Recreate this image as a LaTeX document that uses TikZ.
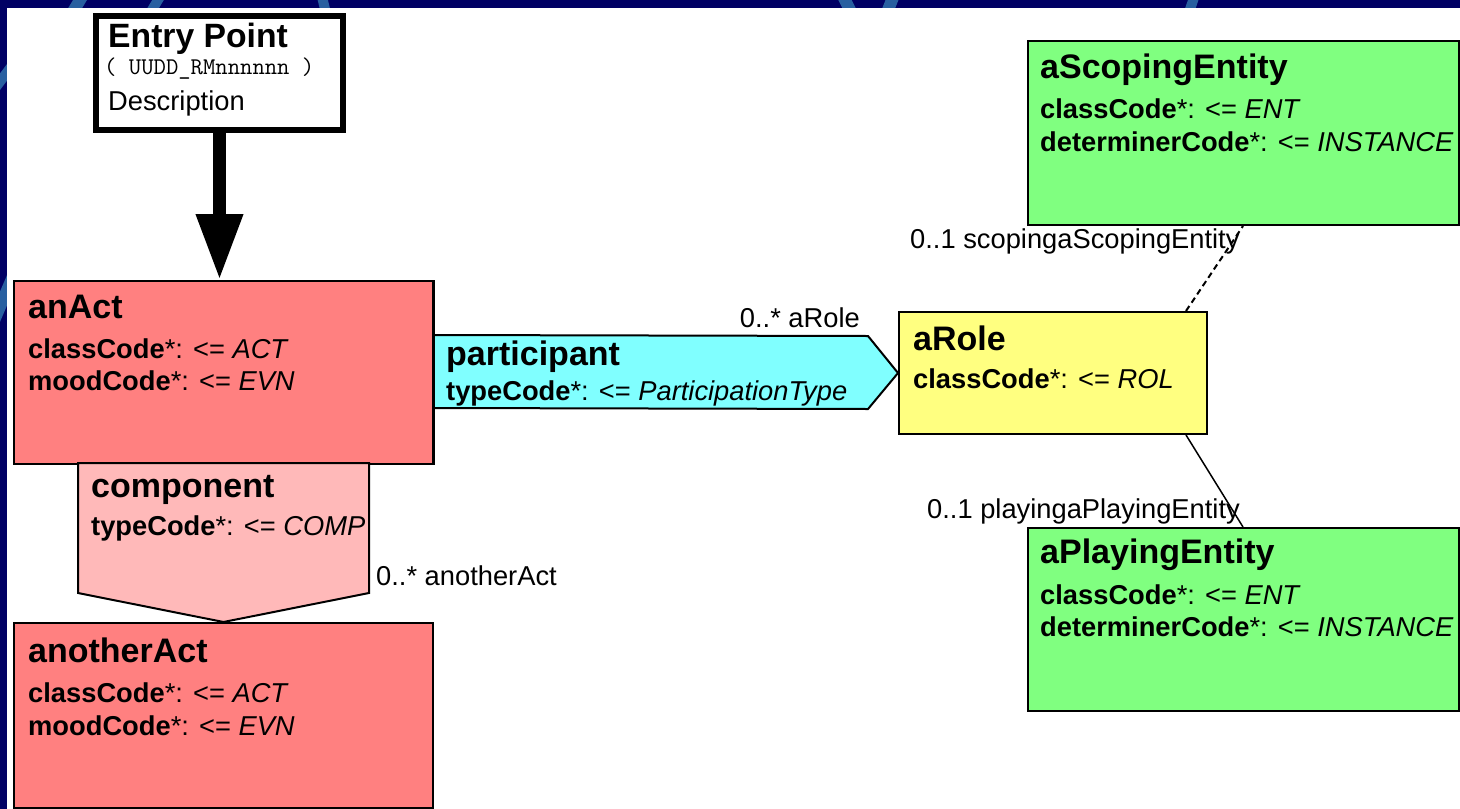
\documentclass[tikz,border=0pt]{standalone}
\usepackage{fontspec}
\setmainfont{Liberation Sans}
\usetikzlibrary{positioning}
\usetikzlibrary{arrows.meta}
\usetikzlibrary{calc}
\definecolor{navyback}{RGB}{0,0,100}
\definecolor{streak}{RGB}{40,95,160}
\definecolor{actred}{RGB}{255,128,128}
\definecolor{comppink}{RGB}{255,185,185}
\definecolor{partcyan}{RGB}{128,255,255}
\definecolor{roleyellow}{RGB}{255,255,128}
\definecolor{entgreen}{RGB}{128,255,128}
\tikzset{
    boxbase/.style = {rectangle, draw=black, line width=2pt, inner sep=0pt, anchor=north west},
    actbox/.style = {boxbase, fill=actred},
    rolebox/.style = {boxbase, fill=roleyellow},
    entbox/.style = {boxbase, fill=entgreen},
    entrybox/.style = {rectangle, draw=black, line width=6pt, fill=white, inner sep=0pt, anchor=north west},
    ttl/.style = {anchor=base west, inner sep=0pt, font=\fontsize{34}{40}\selectfont\bfseries},
    attr/.style = {anchor=base west, inner sep=0pt, font=\fontsize{27.3}{32}\selectfont},
    lbl/.style = {anchor=base west, inner sep=0pt, font=\fontsize{27.3}{32}\selectfont},
    edgen/.style = {-, line width=1.5pt, black},
    edged/.style = {-, line width=2pt, black, dash pattern=on 6pt off 4pt}, % scoping
    shapen/.style = {line width=2pt, draw=black, line join=miter}
}
\newcommand{\attrline}[2]{\textbf{#1}*: <= \textit{#2}}

\begin{document}
\begin{tikzpicture}[x=1pt, y=-1pt]
  \useasboundingbox (0,0) rectangle (1460,809);
  % backdrop
  \fill[navyback] (0,0) rectangle (1460,809);
  \begin{scope}
    \clip (0,0) rectangle (1460,8) (0,0) rectangle (7,809);
    \draw[streak, line width=12pt] (62,30) -- (92,-20);
    \draw[streak, line width=10pt] (140,30) -- (170,-20);
    \draw[streak, line width=10pt] (318,-20) -- (330,30);
    \draw[streak, line width=12pt] (835,-20) -- (860,30);
    \draw[streak, line width=12pt] (880,30) -- (900,-20);
    \draw[streak, line width=10pt] (1183,30) -- (1200,-20);
    \draw[streak, line width=10pt] (-10,95) -- (20,55);
    \draw[streak, line width=12pt] (-10,330) -- (20,260);
  \end{scope}
  \fill[white] (7,8) rectangle (1460,809);

  % entry point
  \node[entrybox, minimum width=247pt, minimum height=114pt] (entry) at (93,13) {};
  \node[anchor=base west, inner sep=0pt, font=\fontsize{33.7}{38}\selectfont\bfseries] (entryTitle) at (108,47) {Entry Point};
  \node[anchor=base west, inner sep=0pt, font=\fontsize{24}{28}\selectfont\ttfamily] (entryCode) at (104,74) {( UUDD\_RMnnnnnn )};
  \node[anchor=base west, inner sep=0pt, font=\fontsize{27.3}{32}\selectfont] (entryDesc) at (108,110) {Description};

  % classes
  \node[actbox, minimum width=419pt, minimum height=183pt] (anAct) at (13,280) {};
  \node[actbox, minimum width=419pt, minimum height=185pt] (anotherAct) at (13,622) {};
  \node[rolebox, minimum width=308pt, minimum height=122pt] (aRole) at (898,311) {};
  \node[entbox, minimum width=431pt, minimum height=184pt] (aScoping) at (1027,40) {};
  \node[entbox, minimum width=431pt, minimum height=183pt] (aPlaying) at (1027,527) {};

  % entry arrow
  \draw[line width=13pt, -{Triangle[width=44pt, length=66pt]}] (entry.south) -- (entry.south |- anAct.north);

  % component
  \coordinate (compTL) at (78,463);
  \coordinate (compTR) at (369,463);
  \filldraw[shapen, fill=comppink] (compTL) -- (compTR) -- ++(0,130) -- (anotherAct.north) -- ($(compTL)+(0,130)$) -- cycle;

  % participant
  \coordinate (partTL) at ($(anAct.north east)+(0,55)$);
  \coordinate (partBL) at ($(anAct.north east)+(0,128)$);
  \filldraw[shapen, fill=partcyan] (partTL) -- ($(aRole.west)+(-30,-37)$) -- (aRole.west) -- ($(aRole.west)+(-30,36)$) -- (partBL);
  \draw[line width=2pt] (partTL |- anAct.north) -- (anAct.south east);

  % role links
  \draw[edged] ([xshift=-22pt]aRole.north east) -- ([xshift=216pt]aScoping.south west);
  \draw[edgen] ([xshift=-22pt]aRole.south east) -- ([xshift=216pt]aPlaying.north west);

  % texts
  \node[ttl] (anActT) at (28,318) {anAct};
  \node[attr] (anActA1) at (28,358) {\attrline{classCode}{ACT}};
  \node[attr] (anActA2) at (28,390) {\attrline{moodCode}{EVN}};

  \node[ttl] (compT) at (91,497) {component};
  \node[attr] (compA1) at (91,535) {\attrline{typeCode}{COMP}};

  \node[ttl] (anotherActT) at (28,662) {anotherAct};
  \node[attr] (anotherActA1) at (28,702) {\attrline{classCode}{ACT}};
  \node[attr] (anotherActA2) at (28,735) {\attrline{moodCode}{EVN}};

  \node[ttl] (partT) at (446,365) {participant};
  \node[attr] (partA1) at (446,400) {\attrline{typeCode}{ParticipationType}};

  \node[ttl] (aRoleT) at (913,350) {aRole};
  \node[attr] (aRoleA1) at (913,388) {\attrline{classCode}{ROL}};

  \node[ttl] (aScopingT) at (1040,78) {aScopingEntity};
  \node[attr] (aScopingA1) at (1040,118) {\attrline{classCode}{ENT}};
  \node[attr] (aScopingA2) at (1040,151) {\attrline{determinerCode}{INSTANCE}};

  \node[ttl] (aPlayingT) at (1040,563) {aPlayingEntity};
  \node[attr] (aPlayingA1) at (1040,604) {\attrline{classCode}{ENT}};
  \node[attr] (aPlayingA2) at (1040,636) {\attrline{determinerCode}{INSTANCE}};

  % role names
  \node[lbl, anchor=base east] (lblRole) at (860,327) {0..* aRole};
  \node[lbl] (lblAnother) at (376,585) {0..* anotherAct};
  \node[lbl] (lblScoping) at (910,248) {0..1 scopingaScopingEntity};
  \node[lbl] (lblPlaying) at (927,518) {0..1 playingaPlayingEntity};
\end{tikzpicture}
\end{document}
